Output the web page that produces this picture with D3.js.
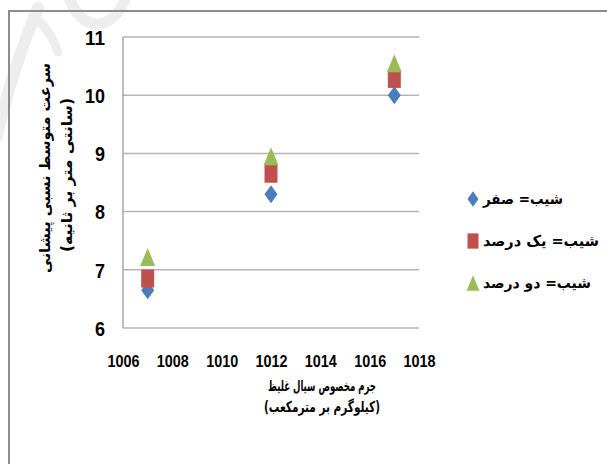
<!DOCTYPE html>
<html>
<head>
<meta charset="utf-8">
<script src="https://cdn.jsdelivr.net/npm/d3@7"></script>
<style>
  body { margin: 0; background: #fff; }
  svg { display: block; }
</style>
</head>
<body>
<script>
// داده‌ها
const density = [1007, 1012, 1017];
const slopeZero = [6.65, 8.3, 10.0];
const slopeOne = [6.85, 8.65, 10.28];
const slopeTwo = [7.22, 8.95, 10.55];
const seriesNames = ["شیب= صفر", "شیب= یک درصد", "شیب= دو درصد"];
const xTicks = [1006, 1008, 1010, 1012, 1014, 1016, 1018];
const yTicks = [6, 7, 8, 9, 10, 11];

const width = 607, height = 464;
const faFont = "'DejaVu Sans', sans-serif";
const numFont = "'Liberation Sans', Arial, sans-serif";

const svg = d3.select("body").append("svg")
  .attr("width", width).attr("height", height);

svg.append("rect").attr("width", width).attr("height", height).attr("fill", "#fff");

// واترمارک کم‌رنگ
const wm = svg.append("g").attr("fill", "none").attr("stroke", "#ededed")
  .attr("stroke-linecap", "round");
wm.append("path").attr("d", "M-4,138 Q12,70 38,8").attr("stroke-width", 12);
wm.append("path").attr("d", "M40,22 Q52,34 58,52").attr("stroke-width", 9);
wm.append("path").attr("d", "M68,-4 Q80,26 100,24 Q118,20 126,-4").attr("stroke-width", 11);

// قاب بیرونی
svg.append("rect")
  .attr("x", 9).attr("y", 11).attr("width", 640).attr("height", 500)
  .attr("fill", "none").attr("stroke", "#8c8c8c").attr("stroke-width", 2);

const x = d3.scaleLinear().domain([1006, 1018]).range([123, 419]);
const y = d3.scaleLinear().domain([6, 11]).range([328, 37]);

// خطوط شبکه
svg.append("g")
  .selectAll("line").data(yTicks).join("line")
  .attr("x1", x(1006)).attr("x2", x(1018))
  .attr("y1", d => y(d)).attr("y2", d => y(d))
  .attr("stroke", "#b5b5b5").attr("stroke-width", 1.5);

svg.append("line")
  .attr("x1", x(1006)).attr("x2", x(1006))
  .attr("y1", y(11)).attr("y2", y(6))
  .attr("stroke", "#a8a8a8").attr("stroke-width", 1.5);

// محورها
const yAxis = svg.append("g")
  .attr("transform", `translate(${x(1006)},0)`)
  .call(d3.axisLeft(y).tickValues(yTicks).tickSize(0).tickPadding(18).tickFormat(d3.format("d")));
yAxis.select(".domain").remove();

const xAxis = svg.append("g")
  .attr("transform", `translate(0,${y(6)})`)
  .call(d3.axisBottom(x).tickValues(xTicks).tickSize(0).tickPadding(27).tickFormat(d3.format("d")));
xAxis.select(".domain").remove();

svg.selectAll(".tick text")
  .attr("font-family", numFont).attr("font-weight", "bold").attr("fill", "#000");
xAxis.selectAll(".tick text").attr("font-size", 16.5)
  .attr("textLength", 32).attr("lengthAdjust", "spacingAndGlyphs");
yAxis.selectAll(".tick text").attr("dy", "0.36em").attr("font-size", 20)
  .attr("textLength", d => String(d).length * 10).attr("lengthAdjust", "spacingAndGlyphs");

// نشانگرها
const mw = 13, mh = 18;
const shapes = {
  diamond: `M0,${-mh / 2}L${mw / 2},0L0,${mh / 2}L${-mw / 2},0Z`,
  square: `M${-mw / 2},${-mh / 2}h${mw}v${mh}h${-mw}Z`,
  triangle: `M0,${-mh / 2}L${mw / 2 + 1},${mh / 2}L${-mw / 2 - 1},${mh / 2}Z`
};
const series = [
  { name: seriesNames[0], values: slopeZero, color: "#4a7ebb", shape: "diamond" },
  { name: seriesNames[1], values: slopeOne, color: "#c0504d", shape: "square" },
  { name: seriesNames[2], values: slopeTwo, color: "#9bbb59", shape: "triangle" }
];

series.forEach(s => {
  svg.append("g").selectAll("path")
    .data(density.map((d, i) => [d, s.values[i]]))
    .join("path")
    .attr("d", shapes[s.shape])
    .attr("transform", d => `translate(${x(d[0])},${y(d[1])})`)
    .attr("fill", s.color);
});

// راهنما
const legendY = [199, 241, 283];
const legendW = [80, 116, 108];
const legend = svg.append("g");
series.forEach((s, i) => {
  legend.append("path")
    .attr("d", shapes[s.shape])
    .attr("transform", `translate(473,${legendY[i]}) scale(0.85)`)
    .attr("fill", s.color);
  legend.append("text")
    .attr("direction", "rtl")
    .attr("text-anchor", "middle")
    .attr("x", 483 + legendW[i] / 2)
    .attr("y", legendY[i])
    .attr("dy", "0.35em")
    .attr("font-family", faFont).attr("font-weight", "bold")
    .attr("font-size", 15)
    .attr("textLength", legendW[i]).attr("lengthAdjust", "spacingAndGlyphs")
    .text(s.name);
});

// عنوان محور افقی
const xTitle = ["جرم مخصوص سیال غلیظ", "(کیلوگرم بر مترمکعب)"];
const xTitleW = [108, 116];
svg.append("g").selectAll("text").data(xTitle).join("text")
  .attr("direction", "rtl")
  .attr("x", 322).attr("y", (d, i) => 386 + i * 21).attr("dy", "0.35em")
  .attr("text-anchor", "middle")
  .attr("font-family", faFont).attr("font-weight", "bold").attr("font-size", 15)
  .attr("textLength", (d, i) => xTitleW[i]).attr("lengthAdjust", "spacingAndGlyphs")
  .text(d => d);

// عنوان محور عمودی
const yTitle = ["سرعت متوسط نسبی پیشانی", "(سانتی متر بر ثانیه)"];
const yTitleW = [210, 154];
svg.append("g").selectAll("text").data(yTitle).join("text")
  .attr("direction", "rtl")
  .attr("transform", (d, i) => `translate(${45 + i * 22},${168 + i * 7}) rotate(-90)`)
  .attr("dy", "0.35em")
  .attr("text-anchor", "middle")
  .attr("font-family", faFont).attr("font-weight", "bold").attr("font-size", 15)
  .attr("textLength", (d, i) => yTitleW[i]).attr("lengthAdjust", "spacingAndGlyphs")
  .text(d => d);
</script>
</body>
</html>
